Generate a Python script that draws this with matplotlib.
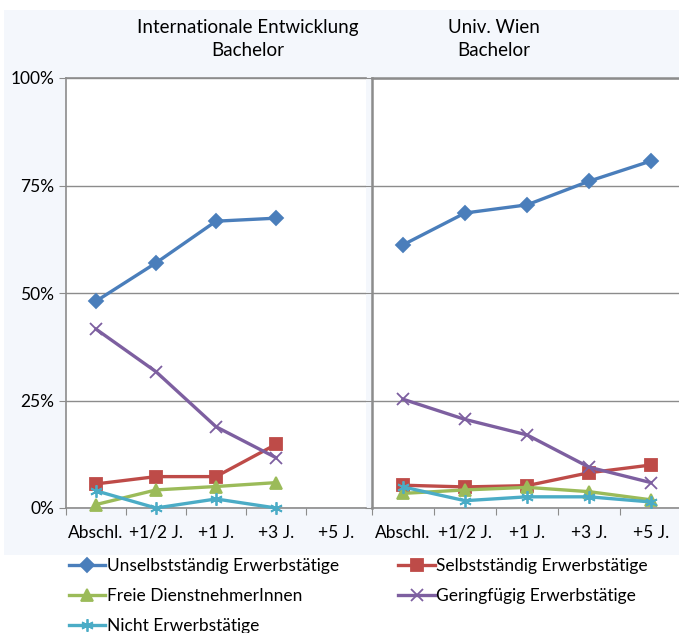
import matplotlib
matplotlib.use('Agg')
import matplotlib.pyplot as plt
from matplotlib.patches import Rectangle

plt.rcParams['font.family'] = ['Lato', 'DejaVu Sans']

categories = ['Abschl.', '+1/2 J.', '+1 J.', '+3 J.', '+5 J.']
series_names = ['Unselbstständig Erwerbstätige', 'Selbstständig Erwerbstätige',
                'Freie DienstnehmerInnen', 'Geringfügig Erwerbstätige',
                'Nicht Erwerbstätige']

# values in percent; left panel has no +5 J. data
ie_unselbst = [48.1, 57.0, 66.7, 67.4]
ie_selbst = [5.6, 7.3, 7.3, 14.8]
ie_freie = [0.8, 4.2, 5.0, 5.9]
ie_gering = [41.6, 31.7, 18.9, 11.7]
ie_nicht = [4.0, 0.0, 2.1, 0.0]

uw_unselbst = [61.2, 68.6, 70.5, 76.0, 80.7]
uw_selbst = [5.3, 4.9, 5.2, 8.2, 10.0]
uw_freie = [3.4, 4.2, 4.8, 3.8, 1.9]
uw_gering = [25.3, 20.6, 17.0, 9.5, 5.9]
uw_nicht = [4.9, 1.7, 2.6, 2.6, 1.4]

colors = ['#4A7EBB', '#BE4B48', '#9BBB59', '#7D5FA0', '#4BACC6']
markers = ['D', 's', '^', 'x', (6, 2, 0)]
msizes = [7, 8, 8, 9, 9]

BG = '#F4F7FC'
GRID = '#8C8C8C'
FS = 12.5

fig = plt.figure(figsize=(6.79, 6.33), dpi=100, facecolor='white')
W, H = 679, 633
fig.patches.append(Rectangle((4 / W, 1 - 555 / H), 675 / W, 545 / H,
                             transform=fig.transFigure, facecolor=BG,
                             edgecolor='none', zorder=-5))

ax1 = fig.add_axes([66 / W, 1 - 508 / H, 300 / W, 430 / H])
ax2 = fig.add_axes([372 / W, 1 - 508 / H, 310 / W, 430 / H])

panels = [
    (ax1, [ie_unselbst, ie_selbst, ie_freie, ie_gering, ie_nicht]),
    (ax2, [uw_unselbst, uw_selbst, uw_freie, uw_gering, uw_nicht]),
]

handles = []
for ax, data in panels:
    ax.set_facecolor('white')
    for vals, c, m, ms, name in zip(data, colors, markers, msizes, series_names):
        x = list(range(len(vals)))
        ln, = ax.plot(x, vals, color=c, lw=2.4, marker=m, markersize=ms,
                      markerfacecolor=c, markeredgecolor=c, mew=1.3,
                      label=name, clip_on=False, zorder=3)
        if ax is ax1:
            handles.append(ln)
    ax.set_xlim(-0.5, 4.5)
    ax.set_ylim(0, 100)
    ax.set_yticks([0, 25, 50, 75, 100])
    ax.yaxis.grid(True, color=GRID, lw=1)
    ax.set_axisbelow(True)
    ax.set_xticks([-0.5, 0.5, 1.5, 2.5, 3.5], minor=False)
    ax.set_xticklabels([])
    ax.set_xticks(range(5), minor=True)
    ax.set_xticklabels(categories, minor=True, fontsize=FS)
    ax.tick_params(axis='x', which='minor', length=0, pad=12)
    ax.tick_params(axis='x', which='major', length=5, color=GRID, direction='out')
    ax.tick_params(axis='y', length=5, color=GRID, direction='out')
    for s in ['left', 'top', 'bottom']:
        ax.spines[s].set_color(GRID)
        ax.spines[s].set_linewidth(1.2)
    ax.spines['right'].set_visible(False)

ax1.set_yticklabels(['0%', '25%', '50%', '75%', '100%'], fontsize=FS)
ax2.set_yticklabels([])
ax2.spines['top'].set_linewidth(1.8)
ax2.spines['left'].set_linewidth(1.8)

fig.text(248 / W, 1 - 39 / H, 'Internationale Entwicklung\nBachelor',
         ha='center', va='center', fontsize=13.5, linespacing=1.4)
fig.text(494 / W, 1 - 39 / H, 'Univ. Wien\nBachelor',
         ha='center', va='center', fontsize=13.5, linespacing=1.4)

order = [0, 2, 4, 1, 3]
leg = fig.legend([handles[i] for i in order], [series_names[i] for i in order],
                 ncol=2, loc='upper left', bbox_to_anchor=(62 / W, 1 - 551 / H),
                 frameon=False, fontsize=FS, handlelength=2.1, handletextpad=0.1,
                 columnspacing=3.4, labelspacing=0.82, borderaxespad=0)

fig.savefig('out.png', dpi=100, facecolor='white')
